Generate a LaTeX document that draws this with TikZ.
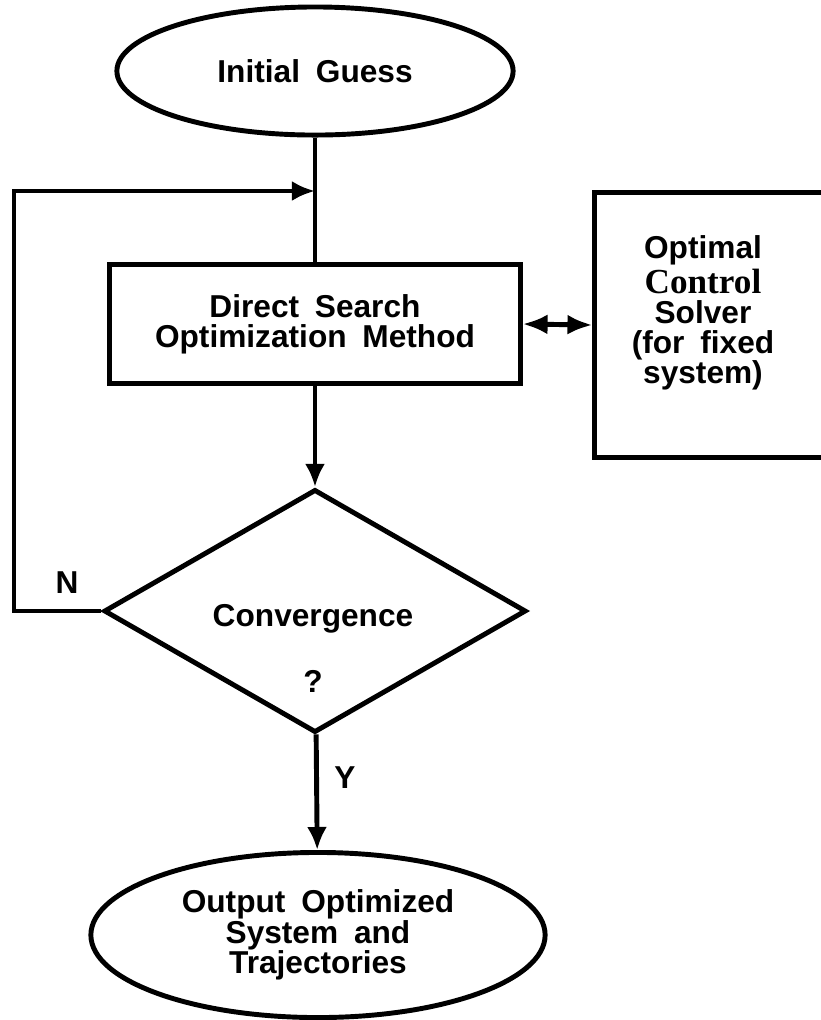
\documentclass[tikz,border=0pt]{standalone}
\usepackage{fontspec}
\setmainfont{Liberation Sans}
\newfontfamily\serifbf{Liberation Serif}
\usetikzlibrary{arrows.meta,shapes.geometric}
\newcommand\wordgap{\spaceskip=4.5pt plus 1pt\relax}

\begin{document}
\begin{tikzpicture}[x=0.01cm,y=-0.01cm,line width=1.4pt,
  font=\fontsize{9}{8.6}\selectfont\bfseries\wordgap,
  term/.style={draw,ellipse,inner sep=0pt,align=center},
  block/.style={draw,rectangle,inner sep=0pt,align=center},
  decision/.style={draw,diamond,inner sep=0pt},
  flow/.style={-{Latex[length=2.3mm,width=2mm]}}]
\clip (0,0) rectangle (821,1020);

% boxes
\node[term,minimum width=3.96cm,minimum height=1.28cm] (guess) at (315,71) {Initial Guess};
\node[block,minimum width=4.1cm,minimum height=1.19cm] (search) at (315,324) {Direct Search\\Optimization Method};
\node[block,minimum width=2.5cm,minimum height=2.64cm] (solver) at (720,325) {};
\node[align=center] (solvertxt) at (703,313) {Optimal\\{\serifbf\fontsize{10}{8.6}\selectfont Control}\\Solver\\(for fixed\\system)};
\node[decision,minimum width=4.22cm,minimum height=2.43cm] (conv) at (315,611) {};
\node (convtxt) at (313,619) {Convergence};
\node (ask) at (313,681) {?};
\node[term,minimum width=4.54cm,minimum height=1.65cm] (output) at (318,935) {Output Optimized\\System and\\Trajectories};

% connectors
\coordinate (merge) at (guess.south |- 0,191);
\coordinate (corner) at (14,191);
\draw (guess) -- (search);
\draw[flow] (conv.west) -| (corner) -- (merge);
\draw[flow] (search) -- (conv);
\draw[{Latex[length=2.5mm,width=2mm]}-{Latex[length=2.5mm,width=2mm]}] (search.east) -- (solver.west);
\draw[flow] (conv) -- (output);

% branch labels
\node (no) at (67,583) {N};
\node (yes) at (345,778) {Y};
\end{tikzpicture}
\end{document}
